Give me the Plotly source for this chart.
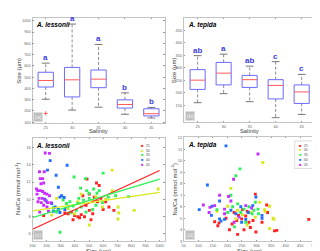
import plotly.graph_objects as go

# ---------------- data ----------------
salinity = ["25", "30", "35", "40", "45"]
pos = [1, 2, 3, 4, 5]

# Panel (a) A. lessonii size box stats (µm)
a_lower = [303, 207, 233, 170, 137]
a_q1 = [412, 324, 406, 225, 155]
a_med = [470, 476, 482, 257, 175]
a_q3 = [543, 586, 563, 298, 219]
a_upper = [624, 971, 790, 360, 231]
a_letters = ["a", "a", "a", "b", "b"]
a_out_pos = [1]
a_out_val = [178]

# Panel (b) A. tepida size box stats (µm)
b_lower = [161, 197, 165, 101, 114]
b_q1 = [214, 232, 222, 176, 158]
b_med = [251, 279, 253, 230, 204]
b_q3 = [293, 322, 270, 253, 232]
b_upper = [349, 355, 307, 325, 274]
b_letters = ["ab", "a", "ab", "c", "c"]

# Panel (c) A. lessonii Na/Ca vs size
c25_x = [486, 553, 572, 456, 502, 537, 584, 618, 641, 676, 600, 375, 352, 329, 398, 421, 445, 387, 433, 468, 502, 479, 526, 179, 560, 514]
c25_y = [12.35, 11.9, 11.6, 10.4, 10.6, 10.25, 10.1, 9.7, 9.1, 8.7, 8.8, 8.5, 8.3, 8.4, 8.1, 7.95, 8.2, 7.6, 7.85, 7.95, 8.7, 9.3, 8.3, 8.1, 9.7, 7.6]
c30_x = [664, 990, 820, 705, 706, 711, 502, 271, 317, 236, 421, 445, 549, 595, 526, 398, 352, 618, 664]
c30_y = [13.4, 11.2, 8.7, 7.7, 9.1, 8.4, 7.0, 10.1, 10.25, 8.15, 9.7, 10.6, 10.3, 9.1, 9.7, 8.3, 8.9, 10.0, 11.0]
c35_x = [294, 394, 475, 600, 440, 484, 500, 556, 572, 533, 428, 461, 317, 341, 364, 387, 421, 445, 479, 526, 549, 595, 637, 688, 248, 271, 502, 410, 364, 780]
c35_y = [6.15, 12.6, 12.4, 13.05, 11.3, 11.0, 10.7, 10.7, 11.0, 11.2, 10.1, 9.9, 9.9, 9.5, 9.7, 9.2, 9.5, 9.1, 8.5, 8.8, 9.3, 9.6, 10.25, 10.4, 9.0, 8.5, 10.1, 8.7, 8.45, 10.3]
c40_x = [225, 206, 345, 267, 283, 186, 197, 236, 294, 306, 324, 260, 283, 248, 294, 329]
c40_y = [14.5, 13.4, 13.97, 12.8, 11.4, 10.0, 9.8, 9.5, 10.25, 10.4, 10.2, 9.1, 8.8, 8.6, 8.45, 8.8]
c45_x = [190, 220, 149, 183, 155, 172, 160, 179, 128, 137, 155, 172, 186, 202, 132, 146, 169, 190, 220, 139, 162, 206, 179, 230, 202, 151, 213]
c45_y = [15.4, 15.35, 13.2, 13.2, 12.4, 12.4, 11.8, 11.9, 11.2, 11.0, 11.0, 10.9, 10.7, 10.6, 10.6, 10.1, 10.1, 9.9, 10.4, 9.7, 9.6, 9.6, 9.3, 9.6, 9.1, 8.5, 8.6]

# Regression lines (c), read at both ends
fit_x = [100, 1000]
fit25_y = [6.5, 13.35]
fit30_y = [8.65, 10.8]
fit35_y = [7.85, 12.35]

# Panel (d) A. tepida Na/Ca vs size
d25_x = [296, 335, 338, 480, 207, 235, 257, 279, 298, 362, 370, 156, 171, 167, 223, 238, 249, 263, 274, 232, 216, 288, 319, 195, 252, 268]
d25_y = [7.1, 6.15, 5.5, 4.9, 4.0, 3.6, 4.0, 4.2, 3.8, 3.9, 3.95, 4.7, 4.6, 4.35, 5.5, 5.25, 4.95, 5.2, 4.65, 4.8, 4.5, 4.8, 4.65, 5.0, 5.75, 5.6]
d30_x = [322, 212, 164, 345, 328, 357, 360, 345, 201, 235, 252, 279, 296, 229, 268, 311, 330]
d30_y = [9.85, 7.6, 5.6, 6.05, 5.75, 5.0, 4.9, 4.1, 6.05, 5.7, 5.3, 5.5, 5.1, 4.95, 4.4, 6.4, 5.6]
d35_x = [243, 229, 212, 164, 305, 218, 235, 257, 274, 291, 246, 201, 263, 307, 224, 296, 285]
d35_y = [9.3, 8.7, 7.0, 5.75, 5.8, 6.0, 6.25, 5.8, 6.0, 5.7, 5.5, 5.5, 4.65, 5.4, 4.25, 6.4, 5.4]
d40_x = [195, 298, 131, 173, 147, 103, 145, 190, 173, 178, 319, 212, 229, 246, 272, 287, 263, 319, 249]
d40_y = [11.3, 6.85, 7.9, 6.5, 6.05, 5.75, 5.25, 4.9, 4.95, 4.75, 5.0, 5.7, 5.4, 6.0, 5.5, 6.1, 4.9, 5.25, 4.65]
d45_x = [305, 221, 173, 204, 117, 156, 140, 137, 190, 212, 240, 263, 223, 283, 190]
d45_y = [10.6, 8.4, 7.0, 6.9, 6.15, 6.1, 5.95, 5.5, 5.4, 6.5, 5.1, 6.1, 4.65, 5.9, 5.8]

# ---------------- style ----------------
FONT = "Liberation Sans, Arial, sans-serif"
BOXC = "#6a6aff"
MEDC = "#ff5a5a"
WHC = "#707070"
LETC = "#3b3bdc"
FRAME = "#c4c4c4"
TICKTXT = "#666666"
TITLETXT = "#3a3a3a"
COL = {"25": "#ff2020", "30": "#d8e81c", "35": "#2ef058", "40": "#1f6fff", "45": "#c82cff"}

fig = go.Figure()


def add_boxes(xa, ya, lower, q1, med, q3, upper):
    hw, cw = 0.29, 0.15
    wx, wy, cx, cy, bx, by, mx, my = [], [], [], [], [], [], [], []
    for i, p in enumerate(pos):
        wx += [p, p, None, p, p, None]
        wy += [q3[i], upper[i], None, q1[i], lower[i], None]
        cx += [p - cw, p + cw, None, p - cw, p + cw, None]
        cy += [upper[i], upper[i], None, lower[i], lower[i], None]
        bx += [p - hw, p + hw, p + hw, p - hw, p - hw, None]
        by += [q1[i], q1[i], q3[i], q3[i], q1[i], None]
        mx += [p - hw, p + hw, None]
        my += [med[i], med[i], None]
    fig.add_trace(go.Scatter(x=wx, y=wy, mode="lines", line=dict(color=WHC, width=0.8, dash="3px,2px"),
                             xaxis=xa, yaxis=ya, showlegend=False, hoverinfo="skip"))
    fig.add_trace(go.Scatter(x=cx, y=cy, mode="lines", line=dict(color="#555555", width=0.8),
                             xaxis=xa, yaxis=ya, showlegend=False, hoverinfo="skip"))
    fig.add_trace(go.Scatter(x=bx, y=by, mode="lines", line=dict(color=BOXC, width=1),
                             xaxis=xa, yaxis=ya, showlegend=False, hoverinfo="skip"))
    fig.add_trace(go.Scatter(x=mx, y=my, mode="lines", line=dict(color=MEDC, width=1),
                             xaxis=xa, yaxis=ya, showlegend=False, hoverinfo="skip"))


add_boxes("x", "y", a_lower, a_q1, a_med, a_q3, a_upper)
fig.add_trace(go.Scatter(x=a_out_pos, y=a_out_val, mode="markers",
                         marker=dict(symbol="cross-thin", size=3, line=dict(color="#ff4040", width=0.8)),
                         xaxis="x", yaxis="y", showlegend=False))
add_boxes("x2", "y2", b_lower, b_q1, b_med, b_q3, b_upper)

for p, u, t in zip(pos, a_upper, a_letters):
    fig.add_annotation(x=p, y=u, xref="x", yref="y", text="<b>" + t + "</b>", showarrow=False,
                       yanchor="bottom", yshift=-1, font=dict(family=FONT, size=8, color=LETC))
for p, u, t in zip(pos, b_upper, b_letters):
    fig.add_annotation(x=p, y=u, xref="x2", yref="y2", text="<b>" + t + "</b>", showarrow=False,
                       yanchor="bottom", yshift=-1, font=dict(family=FONT, size=8, color=LETC))

# panel c scatter
for key, xs, ys in [("25", c25_x, c25_y), ("30", c30_x, c30_y), ("35", c35_x, c35_y),
                    ("40", c40_x, c40_y), ("45", c45_x, c45_y)]:
    fig.add_trace(go.Scatter(x=xs, y=ys, mode="markers", xaxis="x3", yaxis="y3",
                             marker=dict(symbol="square", size=2.9, color=COL[key]),
                             showlegend=False))
for key, ys in [("25", fit25_y), ("30", fit30_y), ("35", fit35_y)]:
    fig.add_trace(go.Scatter(x=fit_x, y=ys, mode="lines", xaxis="x3", yaxis="y3",
                             line=dict(color=COL[key], width=1.3), showlegend=False))

# panel d scatter
for key, xs, ys in [("25", d25_x, d25_y), ("30", d30_x, d30_y), ("35", d35_x, d35_y),
                    ("40", d40_x, d40_y), ("45", d45_x, d45_y)]:
    fig.add_trace(go.Scatter(x=xs, y=ys, mode="markers", xaxis="x4", yaxis="y4",
                             marker=dict(symbol="square", size=2.9, color=COL[key]),
                             showlegend=False))

W, H = 320, 251


def dom_x(l, r):
    return [l / W, r / W]


def dom_y(t, b):
    return [1 - b / H, 1 - t / H]


ax = dict(showline=True, linecolor=FRAME, linewidth=0.8, mirror="ticks", ticks="inside",
          ticklen=1.5, tickwidth=0.5, tickcolor="#999999", showgrid=False, zeroline=False,
          tickfont=dict(family=FONT, size=4, color=TICKTXT))

fig.update_layout(
    width=W, height=H, margin=dict(l=0, r=0, t=0, b=0),
    paper_bgcolor="white", plot_bgcolor="white", showlegend=False,
    xaxis=dict(ax, domain=dom_x(22, 157), anchor="y", range=[0.5, 5.5], tickvals=pos, ticktext=salinity),
    yaxis=dict(ax, domain=dom_y(8, 115), anchor="x", range=[91, 1026], tickvals=list(range(100, 1001, 100))),
    xaxis2=dict(ax, domain=dom_x(176.7, 311), anchor="y2", range=[0.47, 5.52], tickvals=pos, ticktext=salinity),
    yaxis2=dict(ax, domain=dom_y(8, 114), anchor="x2", range=[83, 500], tickvals=list(range(150, 451, 50))),
    xaxis3=dict(ax, domain=dom_x(22, 157), anchor="y3", range=[100, 1035], tickvals=list(range(100, 1001, 100))),
    yaxis3=dict(ax, domain=dom_y(130, 235), anchor="x3", range=[5.1, 17.15], tickvals=list(range(6, 17, 2))),
    xaxis4=dict(ax, domain=dom_x(176.7, 311), anchor="y4", range=[50, 502], tickvals=list(range(50, 501, 50))),
    yaxis4=dict(ax, domain=dom_y(129, 235), anchor="x4", range=[3, 12.08], tickvals=list(range(3, 13))),
)

# axis titles
tfont = dict(family=FONT, size=5.8, color=TITLETXT)
for x, y, txt in [(89.5, 123.2, "Salinity"), (244, 123.2, "Salinity"), (89.5, 244.8, "Size (µm)"), (244, 244.8, "Size (µm)")]:
    fig.add_annotation(x=x / W, y=1 - y / H, xref="paper", yref="paper", text=txt, showarrow=False,
                       font=tfont, xanchor="center", yanchor="middle", borderpad=0)
for x, y, txt in [(7.5, 61.5, "Size (µm)"), (167, 61, "Size (µm)"),
                  (7, 182, "Na/Ca (mmol mol<sup>-1</sup>)"), (167, 182, "Na/Ca (mmol mol<sup>-1</sup>)")]:
    fig.add_annotation(x=x / W, y=1 - y / H, xref="paper", yref="paper", text=txt, showarrow=False,
                       font=dict(family=FONT, size=6, color=TITLETXT), textangle=-90,
                       xanchor="center", yanchor="middle")

# panel titles
for xr, yr, xx, yy, txt in [("x domain", "y domain", 0.01, 0.935, "A. lessonii"),
                            ("x2 domain", "y2 domain", 0.017, 0.934, "A. tepida"),
                            ("x3 domain", "y3 domain", 0.01, 0.93, "A. lessonii"),
                            ("x4 domain", "y4 domain", 0.017, 0.92, "A. tepida")]:
    fig.add_annotation(x=xx, y=yy, xref=xr, yref=yr, text="<b><i>" + txt + "</i></b>", showarrow=False,
                       xanchor="left", yanchor="middle", font=dict(family=FONT, size=6.5, color="black"))

# panel badges
for xr, yr, txt in [("x domain", "y domain", "(a)"), ("x2 domain", "y2 domain", "(b)"),
                    ("x3 domain", "y3 domain", "(c)"), ("x4 domain", "y4 domain", "(d)")]:
    fig.add_annotation(x=0.006, y=0.015, xref=xr, yref=yr, text=txt, showarrow=False,
                       xanchor="left", yanchor="bottom", bgcolor="#bdbdbd", bordercolor="#e2e2e2",
                       borderwidth=0.8, borderpad=1, font=dict(family=FONT, size=5.5, color="#f4f4f4"))

# legends
legy_c = [0.93, 0.883, 0.835, 0.788, 0.74]
legy_d = [0.922, 0.875, 0.828, 0.78, 0.733]
for xr, yr, xx, ys in [("x3 domain", "y3 domain", 0.81, legy_c), ("x4 domain", "y4 domain", 0.865, legy_d)]:
    for key, yy in zip(salinity, ys):
        fig.add_annotation(x=xx, y=yy, xref=xr, yref=yr, showarrow=False, xanchor="left", yanchor="middle",
                           text='<span style="color:%s">■</span>  %s' % (COL[key], key),
                           font=dict(family=FONT, size=4, color=TICKTXT))
fig.add_shape(type="rect", xref="x4 domain", yref="y4 domain", x0=0.844, x1=0.985, y0=0.698, y1=0.962,
              line=dict(color="#cccccc", width=0.7), fillcolor="rgba(0,0,0,0)")

fig.write_html("out.html")
